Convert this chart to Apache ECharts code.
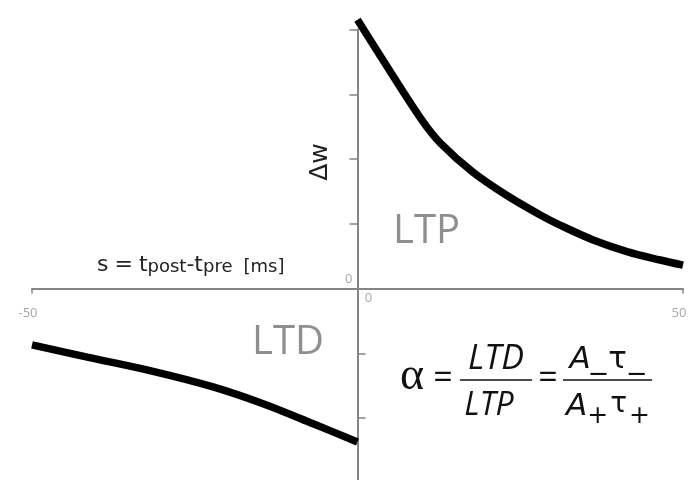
<!DOCTYPE html>
<html>
<head>
<meta charset="utf-8">
<script src="https://cdn.jsdelivr.net/npm/echarts@6/dist/echarts.min.js"></script>
<style>html,body{margin:0;padding:0;background:#fff}#c{width:689px;height:480px}</style>
</head>
<body>
<div id="c"></div>
<script>
// Data
const sLTP = [0, 3.9, 9.9, 12.7, 17.7, 22.9, 28.0, 31.1, 36.2, 41.4, 46.5, 50];
const wLTP = [4.15, 3.53, 2.60, 2.25, 1.80, 1.44, 1.14, 0.98, 0.75, 0.57, 0.44, 0.36];
const sLTD = [-50, -41.5, -31.4, -22.2, -14.5, -6.8, 0];
const wLTD = [-0.87, -1.06, -1.28, -1.52, -1.78, -2.09, -2.37];
const xTicks = [-50, 0, 50];
const yName = 'Δw';
const xName = ['s', '=', 't', 'post', '-t', 'pre', '[ms]'];

const chart = echarts.init(document.getElementById('c'), null, {renderer: 'canvas'});
const axisGray = '#858585';
const labGray = '#a8a8a8';
const font = 'Open Sans';
const dv = 'DejaVu Sans';
const yOff = -325.5; // puts the vertical axis at s = 0

const option = {
  animation: false,
  backgroundColor: '#fff',
  grid: [
    {left: 32, right: 6, top: 29.5, height: 259, outerBoundsMode: 'none', containLabel: false},
    {left: 32, right: 6, top: 288.5, height: 194.25, outerBoundsMode: 'none', containLabel: false}
  ],
  xAxis: [
    {
      gridIndex: 0, type: 'value', min: xTicks[0], max: xTicks[2], interval: 50,
      axisLine: {lineStyle: {color: axisGray, width: 2}},
      axisTick: {length: 5, lineStyle: {color: axisGray, width: 1.5}},
      splitLine: {show: false},
      axisLabel: {
        margin: 3, fontFamily: font, fontSize: 13, color: labGray, hideOverlap: false,
        formatter: v => v === 0 ? '{z|0}' : '{e|' + v + '}',
        rich: {
          z: {padding: [0, 0, 0, 22], fontSize: 13, color: labGray, fontFamily: font},
          e: {padding: [15, 8, 0, 0], fontSize: 13, color: labGray, fontFamily: font}
        }
      }
    },
    {
      gridIndex: 1, type: 'value', min: xTicks[0], max: xTicks[2], interval: 50,
      axisLine: {show: false}, axisTick: {show: false}, axisLabel: {show: false}, splitLine: {show: false}
    }
  ],
  yAxis: [
    {
      gridIndex: 0, type: 'value', min: 0, max: 4, interval: 1, position: 'left', offset: yOff,
      name: yName, nameLocation: 'middle', nameGap: 25, nameRotate: 90,
      nameTextStyle: {fontFamily: dv, fontSize: 25, color: '#222', padding: [0, 6, 0, 0]},
      axisLine: {onZero: false, lineStyle: {color: axisGray, width: 2}},
      axisTick: {length: 8, lineStyle: {color: axisGray, width: 1.5}},
      splitLine: {show: false},
      axisLabel: {
        margin: 5, fontFamily: font, fontSize: 13, color: labGray, showMinLabel: true, hideOverlap: false,
        formatter: v => v === 0 ? '{z|0}' : '',
        rich: {z: {padding: [0, 0, 18, 0], fontSize: 13, color: labGray, fontFamily: font}}
      }
    },
    {
      gridIndex: 1, type: 'value', min: -3, max: 0, interval: 1, position: 'left', offset: yOff,
      axisLine: {onZero: false, lineStyle: {color: axisGray, width: 2}},
      axisTick: {inside: true, length: 8, lineStyle: {color: axisGray, width: 1.5}},
      splitLine: {show: false},
      axisLabel: {show: false}
    }
  ],
  series: [
    {
      type: 'line', xAxisIndex: 0, yAxisIndex: 0, clip: false,
      data: sLTP.map((s, i) => [s, wLTP[i]]),
      showSymbol: false, smooth: 0.35,
      lineStyle: {color: '#000', width: 7.5, cap: 'butt'}
    },
    {
      type: 'line', xAxisIndex: 1, yAxisIndex: 1, clip: false,
      data: sLTD.map((s, i) => [s, wLTD[i]]),
      showSymbol: false, smooth: 0.35,
      lineStyle: {color: '#000', width: 7.5, cap: 'butt'}
    }
  ],
  graphic: [
    {
      type: 'text', left: 97, top: 252,
      style: {
        text: '{m|' + xName[0] + '}{q|' + xName[1] + '}{m|' + xName[2] + '}{s|' + xName[3] + '}{m|' + xName[4] + '}{s|' + xName[5] + '}{u|' + xName[6] + '}',
        rich: {
          m: {fontFamily: dv, fontSize: 22, fill: '#222', verticalAlign: 'bottom', lineHeight: 24},
          q: {fontFamily: dv, fontSize: 22, fill: '#222', verticalAlign: 'bottom', lineHeight: 24, padding: [0, 6, 0, 6]},
          s: {fontFamily: dv, fontSize: 18, fill: '#222', verticalAlign: 'bottom', lineHeight: 24, padding: [6, 0, 0, 0]},
          u: {fontFamily: dv, fontSize: 18, fill: '#222', verticalAlign: 'bottom', lineHeight: 24, padding: [0, 0, 0, 11]}
        }
      }
    },
    {type: 'text', x: 393, y: 231.5, style: {text: 'LTP', fontFamily: font, fontSize: 40, fill: '#8f8f8f', verticalAlign: 'middle'}},
    {type: 'text', x: 252, y: 343, style: {text: 'LTD', fontFamily: font, fontSize: 40, fill: '#8f8f8f', verticalAlign: 'middle'}},
    // formula
    {type: 'text', x: 412, y: 377, style: {text: 'α', fontFamily: 'Liberation Serif', fontSize: 46, fill: '#111', align: 'center', verticalAlign: 'middle'}},
    {type: 'text', x: 443, y: 379, style: {text: '=', fontFamily: font, fontSize: 34, fill: '#111', align: 'center', verticalAlign: 'middle'}},
    {type: 'text', x: 496, y: 359, style: {text: 'LTD', fontFamily: font, fontStyle: 'italic', fontSize: 34, fill: '#111', align: 'center', verticalAlign: 'middle'}},
    {type: 'line', shape: {x1: 460, y1: 380, x2: 532, y2: 380}, style: {stroke: '#111', lineWidth: 1.5}},
    {type: 'text', x: 489, y: 406, style: {text: 'LTP', fontFamily: font, fontStyle: 'italic', fontSize: 32, fill: '#111', align: 'center', verticalAlign: 'middle'}},
    {type: 'text', x: 548, y: 379, style: {text: '=', fontFamily: font, fontSize: 34, fill: '#111', align: 'center', verticalAlign: 'middle'}},
    {type: 'line', shape: {x1: 563, y1: 380, x2: 652, y2: 380}, style: {stroke: '#111', lineWidth: 1.5}},
    {
      type: 'text', x: 607, y: 375,
      style: {
        text: '{a|A}{u|_}{t|τ}{u|_}', align: 'center', verticalAlign: 'bottom',
        rich: {
          a: {fontFamily: dv, fontStyle: 'italic', fontSize: 31, fill: '#111', verticalAlign: 'bottom', lineHeight: 36},
          t: {fontFamily: dv, fontSize: 31, fill: '#111', verticalAlign: 'bottom', lineHeight: 36, padding: [0, 2, 0, 2]},
          u: {fontFamily: dv, fontSize: 31, fill: '#111', verticalAlign: 'bottom', lineHeight: 36}
        }
      }
    },
    {
      type: 'text', x: 566, y: 391,
      style: {
        text: '{a|A}{p|+}{t|τ}{p|+}',
        rich: {
          a: {fontFamily: dv, fontStyle: 'italic', fontSize: 31, fill: '#111', verticalAlign: 'top', lineHeight: 38},
          t: {fontFamily: dv, fontSize: 28, fill: '#111', verticalAlign: 'top', lineHeight: 38, padding: [0, 2, 0, 2]},
          p: {fontFamily: dv, fontSize: 25, fill: '#111', verticalAlign: 'bottom', lineHeight: 38, padding: [10, 0, 0, 0]}
        }
      }
    }
  ]
};
chart.setOption(option);
</script>
</body>
</html>
